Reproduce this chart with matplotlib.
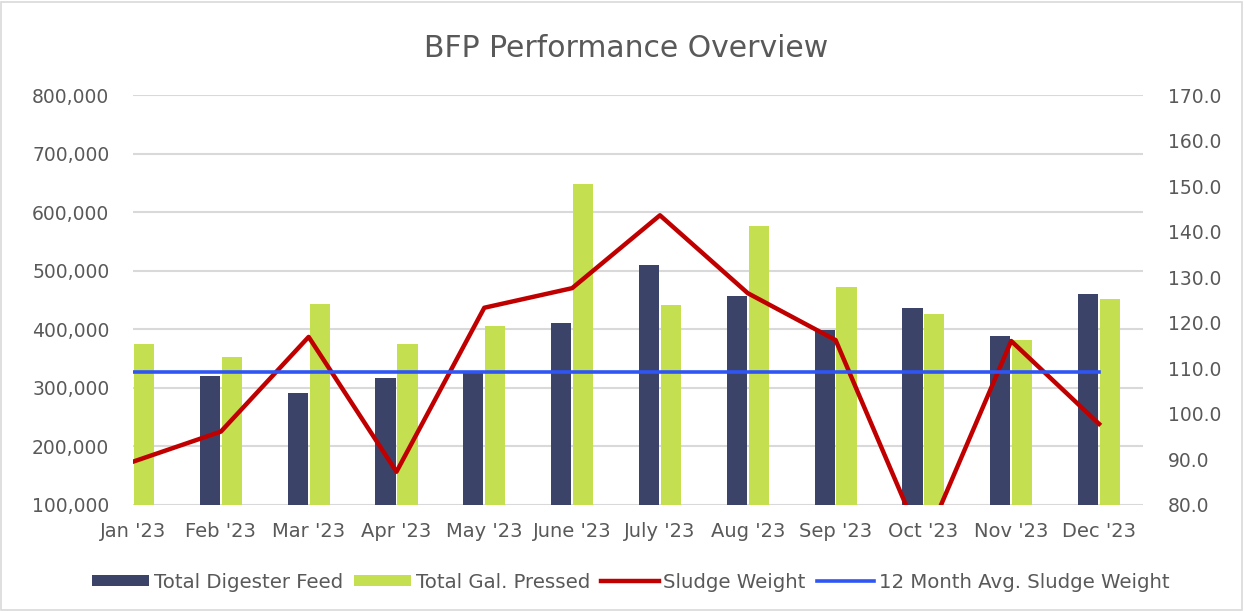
import matplotlib
matplotlib.use("Agg")
import matplotlib.pyplot as plt
from matplotlib.patches import Rectangle
import numpy as np

months = ["Jan '23", "Feb '23", "Mar '23", "Apr '23", "May '23", "June '23",
          "July '23", "Aug '23", "Sep '23", "Oct '23", "Nov '23", "Dec '23"]
# Jan digester feed is cut off by the plot edge in the original
digester_feed = [0, 320000, 292000, 316000, 325000, 410000,
                 509000, 457000, 399000, 436000, 389000, 460000]
gal_pressed = [375000, 353000, 444000, 375000, 406000, 648000,
               441000, 576000, 472000, 426000, 381000, 452000]
sludge_weight = [89.5, 96.1, 116.9, 87.3, 123.3, 127.6,
                 143.6, 126.5, 116.2, 71.0, 116.0, 97.8]
avg_sludge = [109.2] * 12

NAVY = "#3B4468"
LIME = "#C4DF50"
RED = "#C00000"
BLUE = "#2F55F5"
GREY = "#595959"

plt.rcParams['font.family'] = ['DejaVu Sans']

fig = plt.figure(figsize=(12.44, 6.11), dpi=100)
ax = fig.add_axes([0.1069, 0.1735, 0.8119, 0.671])
ax2 = ax.twinx()

x = np.arange(len(months))
w = 0.23
ax.bar(x - w / 2 - 0.01, digester_feed, w, color=NAVY, label="Total Digester Feed", zorder=2)
ax.bar(x + w / 2 + 0.01, gal_pressed, w, color=LIME, label="Total Gal. Pressed", zorder=2)
ax.set_ylim(100000, 800000)
ax.set_yticks(np.arange(100000, 800001, 100000))
ax.yaxis.set_major_formatter(matplotlib.ticker.FuncFormatter(lambda v, p: f"{int(v):,}"))
ax.grid(axis="y", color="#D9D9D9", linewidth=1.5, zorder=0)
ax.set_axisbelow(True)
ax.set_xlim(0, len(months) - 0.5)
ax.set_xticks(x)
ax.set_xticklabels(months)

ax2.plot(x, sludge_weight, color=RED, linewidth=3.2, label="Sludge Weight", zorder=3)
ax2.plot(x, avg_sludge, color=BLUE, linewidth=2.6, label="12 Month Avg. Sludge Weight", zorder=4)
ax2.set_ylim(80, 170)
ax2.set_yticks(np.arange(80, 171, 10))
ax2.set_yticklabels([f"{v:.1f}" for v in range(80, 171, 10)])

for a in (ax, ax2):
    for s in a.spines.values():
        s.set_visible(False)
    a.tick_params(length=0, labelsize=13.5, colors=GREY)
ax.tick_params(axis="x", pad=12, labelsize=14)
ax.tick_params(axis="y", pad=17)
ax2.tick_params(axis="y", pad=18)

fig.text(0.503, 1 - 57 / 611, "BFP Performance Overview", ha="center", va="baseline",
         fontsize=21.5, color=GREY)

h1, l1 = ax.get_legend_handles_labels()
h2, l2 = ax2.get_legend_handles_labels()
leg = fig.legend(h1 + h2, l1 + l2, loc="center", bbox_to_anchor=(0.507, 0.047), ncol=4,
                 frameon=False, fontsize=14.2, handlelength=2.9, handleheight=0.5,
                 handletextpad=0.25, columnspacing=0.55, labelcolor=GREY)

fig.patches.append(Rectangle((0.001, 0.002), 0.997, 0.995, transform=fig.transFigure,
                             fill=False, edgecolor="#D9D9D9", linewidth=1.2))

fig.savefig("out.png", dpi=100)
